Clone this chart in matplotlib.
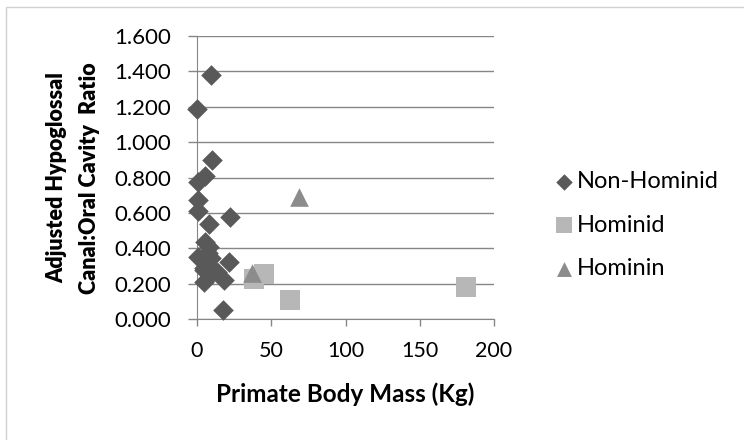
import matplotlib
matplotlib.use('Agg')
import matplotlib.pyplot as plt
from matplotlib.patches import Rectangle

# data
non_hominid_mass = [9.6, 0.0, 10.2, 5.4, 1.0, 1.0, 1.0, 22.4, 8.0, 5.4, 8.0, 7.6,
                    1.0, 9.6, 21.5, 5.0, 4.8, 13.8, 9.0, 18.5, 4.8, 17.7, 6.5]
non_hominid_ratio = [1.378, 1.186, 0.900, 0.806, 0.777, 0.674, 0.608, 0.576, 0.538,
                     0.433, 0.407, 0.374, 0.350, 0.344, 0.324, 0.290, 0.279, 0.264,
                     0.250, 0.222, 0.210, 0.049, 0.300]
hominid_mass = [38.4, 44.8, 62.4, 181.4]
hominid_ratio = [0.226, 0.256, 0.109, 0.181]
hominin_mass = [36.8, 68.8]
hominin_ratio = [0.262, 0.689]

x_ticks = [0, 50, 100, 150, 200]
y_ticks = [0.0, 0.2, 0.4, 0.6, 0.8, 1.0, 1.2, 1.4, 1.6]

plt.rcParams['font.family'] = ['Lato', 'DejaVu Sans']

W, H = 744, 440
fig = plt.figure(figsize=(W / 100, H / 100), dpi=100, facecolor='white')

# chart area border (right and bottom edges fall outside the image)
fig.patches.append(Rectangle((5.5 / W, -2 / H), 745 / W, (H - 7 + 2) / H,
                             transform=fig.transFigure, fill=False,
                             edgecolor='#d0d0d0', linewidth=1))

ax = fig.add_axes([197 / W, (H - 319) / H, (494 - 197) / W, (319 - 36) / H])
ax.set_xlim(0, 200)
ax.set_ylim(0, 1.6)
ax.set_xticks(x_ticks)
ax.set_yticks(y_ticks)
ax.set_yticklabels(['%.3f' % v for v in y_ticks])

ax.grid(True, axis='y', color='#868686', linewidth=1)
ax.set_axisbelow(True)
for s in ['top', 'right']:
    ax.spines[s].set_visible(False)
for s in ['left', 'bottom']:
    ax.spines[s].set_color('#868686')
ax.tick_params(axis='both', colors='#868686', labelcolor='black', width=1)
ax.tick_params(axis='x', length=5, pad=11, labelsize=15.5)
ax.tick_params(axis='y', length=6.5, pad=12, labelsize=16)

ax.scatter(non_hominid_mass, non_hominid_ratio, marker='D', s=110, color='#595959',
           linewidths=0, label='Non-Hominid', clip_on=False, zorder=3)
ax.scatter(hominid_mass, hominid_ratio, marker='s', s=200, color='#b7b7b7',
           linewidths=0, label='Hominid', clip_on=False, zorder=3)
ax.scatter(hominin_mass, hominin_ratio, marker='^', s=180, color='#8c8c8c',
           linewidths=0, label='Hominin', clip_on=False, zorder=4)

# axis titles
fig.text(345 / W, 1 - 394 / H, 'Primate Body Mass (Kg)', fontsize=17.5,
         fontweight='bold', ha='center', va='center')
fig.text(57 / W, 1 - 178 / H, 'Adjusted Hypoglossal', fontsize=15.5,
         fontweight='heavy', rotation=90, ha='center', va='center')
fig.text(89 / W, 1 - 178 / H, 'Canal:Oral Cavity  Ratio', fontsize=15.5,
         fontweight='heavy', rotation=90, ha='center', va='center')

leg = ax.legend(loc='center left', bbox_to_anchor=(552 / W, 1 - 225 / H),
                bbox_transform=fig.transFigure, frameon=False, fontsize=17,
                handletextpad=0.05, labelspacing=0.95, markerscale=0.8,
                handlelength=1.0, borderaxespad=0, borderpad=0)

fig.savefig('out.png', dpi=100, facecolor='white')
